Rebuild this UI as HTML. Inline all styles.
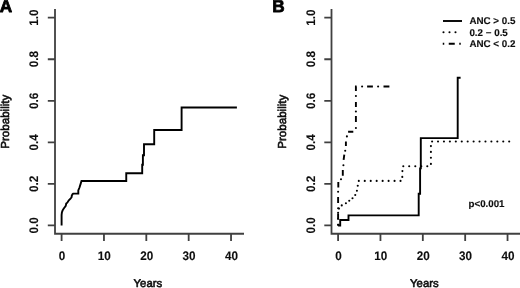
<!DOCTYPE html>
<html><head><meta charset="utf-8"><style>
html,body{margin:0;padding:0;background:#fff;overflow:hidden;}
svg{display:block;}
text{font-family:"Liberation Sans",sans-serif;text-rendering:geometricPrecision;}
</style></head><body>
<svg width="520" height="288" viewBox="0 0 520 288">
<defs><filter id="bl" x="-5%" y="-5%" width="110%" height="110%"><feGaussianBlur stdDeviation="0.35"/></filter></defs>
<rect width="520" height="288" fill="#fff"/>
<g filter="url(#bl)">
<path fill="none" stroke="#404040" stroke-width="1.8" d="M55.00 8.9V233.75H244.00M47.80 225.40H55.00M47.80 183.86H55.00M47.80 142.32H55.00M47.80 100.78H55.00M47.80 59.24H55.00M47.80 17.70H55.00M61.60 233.75V240.95M103.96 233.75V240.95M146.32 233.75V240.95M188.68 233.75V240.95M231.04 233.75V240.95M331.50 8.9V233.75H520.50M324.30 225.40H331.50M324.30 183.86H331.50M324.30 142.32H331.50M324.30 100.78H331.50M324.30 59.24H331.50M324.30 17.70H331.50M338.10 233.75V240.95M380.46 233.75V240.95M422.82 233.75V240.95M465.18 233.75V240.95M507.54 233.75V240.95"/>
<g fill="#111" stroke="#111" stroke-width="0.12" stroke-linejoin="round"><text transform="translate(38.10 225.40) rotate(-90) scale(1 1.06)" font-size="11.7" font-weight="bold" text-anchor="middle">0.0</text><text transform="translate(38.10 183.86) rotate(-90) scale(1 1.06)" font-size="11.7" font-weight="bold" text-anchor="middle">0.2</text><text transform="translate(38.10 142.32) rotate(-90) scale(1 1.06)" font-size="11.7" font-weight="bold" text-anchor="middle">0.4</text><text transform="translate(38.10 100.78) rotate(-90) scale(1 1.06)" font-size="11.7" font-weight="bold" text-anchor="middle">0.6</text><text transform="translate(38.10 59.24) rotate(-90) scale(1 1.06)" font-size="11.7" font-weight="bold" text-anchor="middle">0.8</text><text transform="translate(38.10 17.70) rotate(-90) scale(1 1.06)" font-size="11.7" font-weight="bold" text-anchor="middle">1.0</text><text transform="translate(62.00 259.75) scale(1 1.06)" font-size="11.7" font-weight="bold" text-anchor="middle">0</text><text transform="translate(104.36 259.75) scale(1 1.06)" font-size="11.7" font-weight="bold" text-anchor="middle">10</text><text transform="translate(146.72 259.75) scale(1 1.06)" font-size="11.7" font-weight="bold" text-anchor="middle">20</text><text transform="translate(189.08 259.75) scale(1 1.06)" font-size="11.7" font-weight="bold" text-anchor="middle">30</text><text transform="translate(231.44 259.75) scale(1 1.06)" font-size="11.7" font-weight="bold" text-anchor="middle">40</text><text transform="translate(314.60 225.40) rotate(-90) scale(1 1.06)" font-size="11.7" font-weight="bold" text-anchor="middle">0.0</text><text transform="translate(314.60 183.86) rotate(-90) scale(1 1.06)" font-size="11.7" font-weight="bold" text-anchor="middle">0.2</text><text transform="translate(314.60 142.32) rotate(-90) scale(1 1.06)" font-size="11.7" font-weight="bold" text-anchor="middle">0.4</text><text transform="translate(314.60 100.78) rotate(-90) scale(1 1.06)" font-size="11.7" font-weight="bold" text-anchor="middle">0.6</text><text transform="translate(314.60 59.24) rotate(-90) scale(1 1.06)" font-size="11.7" font-weight="bold" text-anchor="middle">0.8</text><text transform="translate(314.60 17.70) rotate(-90) scale(1 1.06)" font-size="11.7" font-weight="bold" text-anchor="middle">1.0</text><text transform="translate(338.50 259.75) scale(1 1.06)" font-size="11.7" font-weight="bold" text-anchor="middle">0</text><text transform="translate(380.86 259.75) scale(1 1.06)" font-size="11.7" font-weight="bold" text-anchor="middle">10</text><text transform="translate(423.22 259.75) scale(1 1.06)" font-size="11.7" font-weight="bold" text-anchor="middle">20</text><text transform="translate(465.58 259.75) scale(1 1.06)" font-size="11.7" font-weight="bold" text-anchor="middle">30</text><text transform="translate(507.94 259.75) scale(1 1.06)" font-size="11.7" font-weight="bold" text-anchor="middle">40</text></g>
<g fill="#111" stroke="#111" stroke-width="0.6" stroke-linejoin="round"><text transform="translate(9.30 121.70) rotate(-90)" font-size="11.6" font-weight="normal" text-anchor="middle">Probability</text><text transform="translate(133.60 287.10)" font-size="11.3" font-weight="normal">Years</text><text transform="translate(285.80 121.70) rotate(-90)" font-size="11.6" font-weight="normal" text-anchor="middle">Probability</text><text transform="translate(410.10 287.10)" font-size="11.3" font-weight="normal">Years</text></g>
<g fill="#000" stroke="#000" stroke-width="0.8" stroke-linejoin="round"><text transform="translate(-0.30 11.90)" font-size="17.2" font-weight="bold">A</text><text transform="translate(272.30 11.80)" font-size="17.2" font-weight="bold">B</text></g>
<g fill="#111" stroke="#111" stroke-width="0.15" stroke-linejoin="round"><text transform="translate(469.40 24.30)" font-size="9.8" font-weight="bold">ANC &gt; 0.5</text><text transform="translate(469.40 35.60)" font-size="9.8" font-weight="bold">0.2 − 0.5</text><text transform="translate(469.40 46.90)" font-size="9.8" font-weight="bold">ANC &lt; 0.2</text><text transform="translate(468.60 206.90)" font-size="9.7" font-weight="bold">p&lt;0.001</text></g>
<g fill="none" stroke="#000" stroke-width="1.9">
<path d="M61.60 225.60L61.60 215.00L61.90 212.50L62.50 210.60L63.30 209.20L64.30 207.80L65.50 206.20L66.00 204.80L66.20 203.50L67.30 202.70L68.80 200.30L70.50 198.70L71.60 197.20L71.80 195.60L72.60 194.20L73.20 193.60L78.30 193.60L78.30 190.50L79.50 187.50L80.70 183.60L81.50 181.00L126.25 181.00L126.25 173.30L142.20 173.30L142.20 164.70L142.90 164.70L142.90 155.30L144.00 155.30L144.00 144.20L154.20 144.20L154.20 130.00L181.60 130.00L181.60 107.50L236.90 107.50"/>
<path d="M338.10 225.50L340.20 225.50L340.20 220.00L348.50 220.00L348.50 215.40L418.70 215.40L418.70 193.70L420.10 193.70L420.10 168.40L420.80 168.40L420.80 138.10L457.70 138.10L457.70 77.80L460.60 77.80"/>
<path d="M443 21H462"/>
</g>
<g fill="none" stroke="#000" stroke-width="1.9">
<path d="M338.10 219.50L338.10 213.50M338.10 203.00L338.10 197.00M338.30 187.60L338.30 182.00M342.80 175.80L342.80 170.00M343.60 159.80L344.30 154.60M345.90 146.00L345.90 141.60M348.10 131.80L353.30 131.80M355.90 122.10L355.90 116.10M355.90 107.10L355.90 101.90M355.90 91.10L355.90 86.50L356.60 86.50M367.10 86.50L372.90 86.50M383.50 86.50L389.40 86.50"/>
<path d="M442.75 43.7H461" stroke-dasharray="1.5 4.5 6 4.5"/>
</g>
<g fill="#000">
<circle cx="338.10" cy="224.75" r="1.05"/><circle cx="338.10" cy="218.75" r="1.05"/><circle cx="338.10" cy="212.75" r="1.05"/><circle cx="339.00" cy="208.60" r="1.05"/><circle cx="341.75" cy="205.40" r="1.05"/><circle cx="345.90" cy="203.25" r="1.05"/><circle cx="349.25" cy="200.75" r="1.05"/><circle cx="352.50" cy="198.25" r="1.05"/><circle cx="355.25" cy="195.00" r="1.05"/><circle cx="356.90" cy="190.75" r="1.05"/><circle cx="357.75" cy="185.75" r="1.05"/><circle cx="358.80" cy="180.90" r="1.05"/><circle cx="364.76" cy="180.90" r="1.05"/><circle cx="370.72" cy="180.90" r="1.05"/><circle cx="376.68" cy="180.90" r="1.05"/><circle cx="382.64" cy="180.90" r="1.05"/><circle cx="388.60" cy="180.90" r="1.05"/><circle cx="394.56" cy="180.90" r="1.05"/><circle cx="400.52" cy="180.90" r="1.05"/><circle cx="402.30" cy="176.90" r="1.05"/><circle cx="402.40" cy="171.10" r="1.05"/><circle cx="403.30" cy="166.20" r="1.05"/><circle cx="409.20" cy="166.20" r="1.05"/><circle cx="415.30" cy="166.20" r="1.05"/><circle cx="421.30" cy="166.20" r="1.05"/><circle cx="427.30" cy="166.20" r="1.05"/><circle cx="430.90" cy="163.90" r="1.05"/><circle cx="430.90" cy="157.80" r="1.05"/><circle cx="430.90" cy="151.90" r="1.05"/><circle cx="430.90" cy="146.10" r="1.05"/><circle cx="432.10" cy="141.50" r="1.05"/><circle cx="438.03" cy="141.50" r="1.05"/><circle cx="443.96" cy="141.50" r="1.05"/><circle cx="449.89" cy="141.50" r="1.05"/><circle cx="455.82" cy="141.50" r="1.05"/><circle cx="461.75" cy="141.50" r="1.05"/><circle cx="467.68" cy="141.50" r="1.05"/><circle cx="473.61" cy="141.50" r="1.05"/><circle cx="479.54" cy="141.50" r="1.05"/><circle cx="485.47" cy="141.50" r="1.05"/><circle cx="491.40" cy="141.50" r="1.05"/><circle cx="497.33" cy="141.50" r="1.05"/><circle cx="503.26" cy="141.50" r="1.05"/><circle cx="509.19" cy="141.50" r="1.05"/><circle cx="338.10" cy="224.75" r="1.05"/><circle cx="338.10" cy="208.25" r="1.05"/><circle cx="338.10" cy="191.75" r="1.05"/><circle cx="341.00" cy="179.20" r="1.05"/><circle cx="343.40" cy="165.30" r="1.05"/><circle cx="345.20" cy="150.80" r="1.05"/><circle cx="346.90" cy="136.40" r="1.05"/><circle cx="355.90" cy="128.00" r="1.05"/><circle cx="355.90" cy="111.50" r="1.05"/><circle cx="355.90" cy="96.00" r="1.05"/><circle cx="362.10" cy="86.50" r="1.05"/><circle cx="378.10" cy="86.50" r="1.05"/><circle cx="443.50" cy="32.20" r="1.05"/><circle cx="449.50" cy="32.20" r="1.05"/><circle cx="455.50" cy="32.20" r="1.05"/>
</g>
</g>
</svg>
</body></html>
